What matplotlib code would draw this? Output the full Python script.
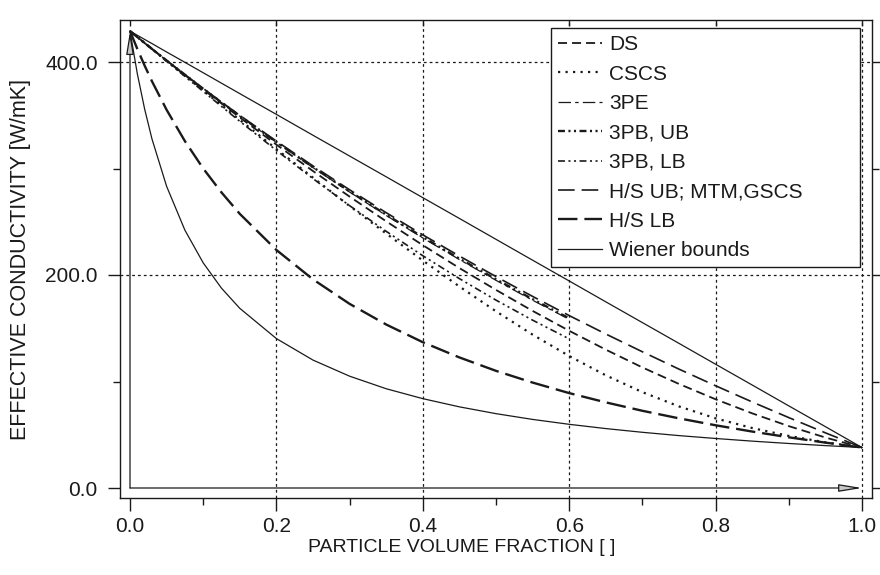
import matplotlib
matplotlib.use("Agg")
import matplotlib.pyplot as plt
from matplotlib.lines import Line2D
from matplotlib.patches import FancyArrowPatch
from matplotlib.ticker import MultipleLocator, FixedLocator, FixedFormatter

plt.rcParams["font.family"] = ["Liberation Sans", "DejaVu Sans"]
plt.rcParams["lines.scale_dashes"] = False

# particle volume fraction grid
phi = [0.0, 0.01, 0.02, 0.03, 0.05, 0.075, 0.1, 0.125, 0.15, 0.2, 0.25, 0.3, 0.35,
       0.4, 0.45, 0.5, 0.55, 0.6, 0.65, 0.7, 0.75, 0.8, 0.85, 0.9, 0.95, 1.0]

# effective conductivity [W/mK]
ds = [429.0, 423.4, 417.8, 412.3, 401.3, 387.7, 374.2, 361.0, 347.9, 322.4, 297.6, 273.6, 250.4,
      228.0, 206.5, 186.0, 166.3, 147.6, 129.9, 113.2, 97.7, 83.3, 70.1, 58.1, 47.4, 38.0]
cscs = [429.0, 423.4, 417.8, 412.2, 401.0, 387.1, 373.2, 359.4, 345.6, 318.3, 291.4, 264.8, 238.9,
        213.6, 189.2, 165.9, 144.0, 123.9, 105.8, 90.0, 76.6, 65.4, 56.3, 48.9, 42.9, 38.0]
hs_ub = [429.0, 423.4, 417.9, 412.4, 401.5, 388.2, 375.2, 362.4, 349.9, 325.7, 302.4, 280.0, 258.5,
         237.7, 217.8, 198.5, 179.9, 161.9, 144.6, 127.9, 111.6, 96.0, 80.8, 66.1, 51.8, 38.0]
hs_lb = [429.0, 412.3, 396.6, 381.9, 355.1, 325.7, 300.0, 277.5, 257.4, 223.5, 195.9, 172.9, 153.5,
         136.9, 122.6, 110.0, 99.0, 89.1, 80.4, 72.5, 65.4, 58.9, 53.0, 47.6, 42.6, 38.0]
wiener_ub = [429.0, 425.1, 421.2, 417.3, 409.4, 399.7, 389.9, 380.1, 370.3, 350.8, 331.2, 311.7, 292.2,
             272.6, 253.1, 233.5, 213.9, 194.4, 174.8, 155.3, 135.8, 116.2, 96.7, 77.1, 57.6, 38.0]
wiener_lb = [429.0, 389.0, 355.8, 327.8, 283.3, 242.1, 211.4, 187.6, 168.7, 140.3, 120.1, 105.0, 93.2,
             83.9, 76.2, 69.8, 64.4, 59.8, 55.8, 52.3, 49.2, 46.5, 44.0, 41.8, 39.8, 38.0]

# third-order results, given up to 0.6
phi3 = phi[:18]
tpe = [429.0, 423.4, 417.8, 412.3, 401.4, 388.0, 374.8, 361.9, 349.2, 324.5, 300.8, 277.9, 255.9,
       234.8, 214.5, 195.0, 176.3, 158.4]
tpb_ub = [429.0, 423.4, 417.9, 412.3, 401.4, 388.1, 374.9, 362.0, 349.4, 324.9, 301.2, 278.5, 256.6,
          235.6, 215.4, 196.0, 177.3, 159.3]
tpb_lb = [429.0, 423.4, 417.7, 412.1, 400.7, 386.5, 372.4, 358.3, 344.3, 317.0, 290.5, 265.1, 241.0,
          218.1, 196.6, 176.4, 157.6, 140.0]

x_ticks = [0.0, 0.2, 0.4, 0.6, 0.8, 1.0]
x_tick_labels = ["0.0", "0.2", "0.4", "0.6", "0.8", "1.0"]
y_ticks = [0.0, 200.0, 400.0]
y_tick_labels = ["0.0", "200.0", "400.0"]

W, H = 880, 575
fig = plt.figure(figsize=(W / 100, H / 100), dpi=100)
# frame: pixels 120..872 horizontally, 20..498 vertically
ax = fig.add_axes([120 / W, 1 - 498 / H, 752 / W, 478 / H])
ax.set_xlim(-10 / 732, 1 + 10 / 732)
ax.set_ylim(-10 / 1.065, 468 / 1.065)

ink = "#1a1a1a"
styles = [
    ("DS", phi, ds, dict(lw=1.3, dashes=(6.5, 3.6))),
    ("CSCS", phi, cscs, dict(lw=1.6, dashes=(1.6, 3.8))),
    ("3PE", phi3, tpe, dict(lw=0.9, dashes=(9.0, 3.0, 2.5, 3.0))),
    ("3PB, UB", phi3, tpb_ub, dict(lw=1.7, dashes=(5.0, 2.5, 1.5, 2.5, 1.5, 2.5))),
    ("3PB, LB", phi3, tpb_lb, dict(lw=1.2, dashes=(5.0, 2.5, 1.5, 2.5, 1.5, 2.5))),
    ("H/S UB; MTM,GSCS", phi, hs_ub, dict(lw=1.2, dashes=(12.0, 5.0))),
    ("H/S LB", phi, hs_lb, dict(lw=1.7, dashes=(14.0, 5.0))),
]
handles = []
for label, xs, ys, kw in styles:
    ax.plot(xs, ys, color=ink, zorder=3, **kw)
    handles.append(Line2D([], [], color=ink, label=label, **kw))
ax.plot(phi, wiener_ub, color=ink, lw=0.9, zorder=3)
ax.plot(phi, wiener_lb, color=ink, lw=0.9, zorder=3)
handles.append(Line2D([], [], color=ink, lw=0.9, label="Wiener bounds"))

# dotted grid
for gx in x_ticks[1:]:
    ax.axvline(gx, color=ink, lw=0.9, dashes=(2.0, 2.2), zorder=1)
for gy in y_ticks[1:]:
    ax.axhline(gy, color=ink, lw=0.9, dashes=(2.0, 2.2), zorder=1)

# axis arrows along phi = 0 and k = 0
for start, end in [((0.0, 0.0), (1.0, 0.0)), ((0.0, 0.0), (0.0, hs_ub[0]))]:
    arr = FancyArrowPatch(start, end, arrowstyle="-|>,head_length=14,head_width=2.3",
                          mutation_scale=1, shrinkA=0, shrinkB=0, lw=0.9,
                          edgecolor=ink, facecolor="#c8c8c8", zorder=4)
    ax.add_patch(arr)

ax.xaxis.set_major_locator(FixedLocator(x_ticks))
ax.xaxis.set_major_formatter(FixedFormatter(x_tick_labels))
ax.xaxis.set_minor_locator(MultipleLocator(0.1))
ax.yaxis.set_major_locator(FixedLocator(y_ticks))
ax.yaxis.set_major_formatter(FixedFormatter(y_tick_labels))
ax.yaxis.set_minor_locator(MultipleLocator(100))
ax.tick_params(which="both", direction="out", color=ink, width=1.0,
               right=True, labelsize=15, labelcolor=ink)
ax.tick_params(which="major", length=9)
ax.tick_params(which="minor", length=5)
ax.tick_params(axis="x", which="major", pad=5)
ax.tick_params(axis="y", which="major", pad=7)
for sp in ax.spines.values():
    sp.set_color(ink)
    sp.set_linewidth(1.0)

# short inward marks along the top edge at the major positions
top = ax.secondary_xaxis("top")
top.xaxis.set_major_locator(FixedLocator(x_ticks))
top.tick_params(direction="in", length=4, width=1.0, color=ink, labeltop=False)
top.spines["top"].set_visible(False)

ax.set_xlabel("PARTICLE VOLUME FRACTION [ ]", fontsize=14, color=ink)
ax.xaxis.set_label_coords((462 - 120) / 752, -(539 - 498) / 478)
ax.set_ylabel("EFFECTIVE CONDUCTIVITY [W/mK]", fontsize=15.5, color=ink, labelpad=10)

# legend box spans pixels 551..860 horizontally, starting at y = 28
leg = ax.legend(handles=handles, loc="upper left",
                bbox_to_anchor=(551 / W, 1 - 268 / H, 309 / W, 240 / H),
                bbox_transform=fig.transFigure, mode="expand", borderaxespad=0, fontsize=15,
                handlelength=2.1, handletextpad=0.35, labelspacing=0.5, borderpad=0.35,
                frameon=True, fancybox=False, framealpha=1.0, edgecolor=ink)
leg.get_frame().set_linewidth(1.0)
for t in leg.get_texts():
    t.set_color(ink)
leg.set_zorder(5)

fig.savefig("out.png", dpi=100)
